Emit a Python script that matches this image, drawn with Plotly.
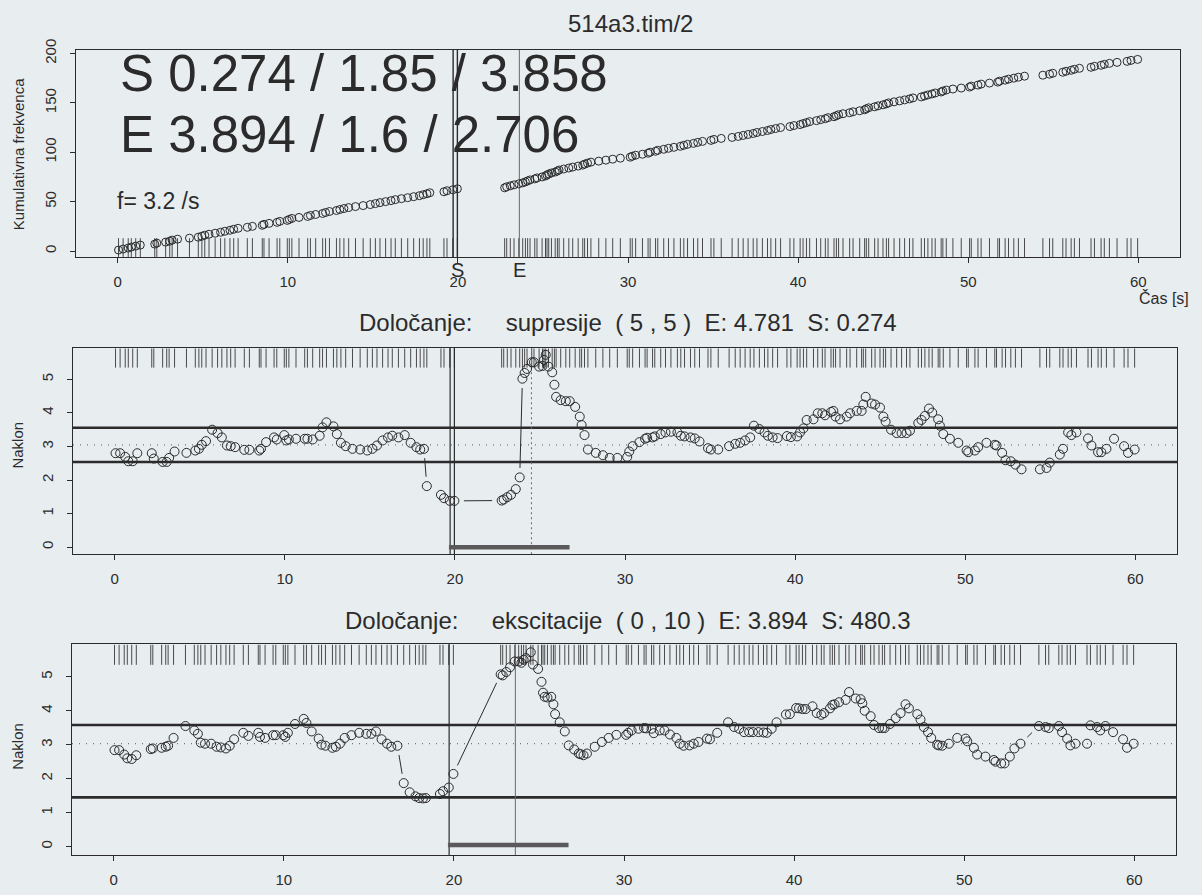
import math
import plotly.graph_objects as go

# Event times [s] of the recorded spikes (same events in all three panels)
event_times = [
    0.05, 0.32, 0.62, 0.80, 1.06, 1.33, 2.18, 2.30, 2.82, 3.06,
    3.20, 3.52, 4.22, 4.74, 4.95, 5.12, 5.37, 5.73, 6.05, 6.30,
    6.60, 6.82, 7.08, 7.62, 7.92, 8.50, 8.60, 8.90, 9.37, 9.53,
    9.97, 10.09, 10.24, 10.66, 11.17, 11.33, 11.64, 12.05, 12.22, 12.45,
    12.86, 13.06, 13.30, 13.58, 13.98, 14.43, 14.85, 15.15, 15.42, 15.75,
    16.07, 16.32, 16.68, 17.05, 17.40, 17.74, 17.96, 18.18, 18.35, 19.18,
    19.36, 19.70, 19.97,
    22.75, 22.87, 23.08, 23.30, 23.58, 23.81, 23.97, 24.10, 24.24, 24.52,
    24.65, 24.95, 25.15, 25.24, 25.34, 25.50, 25.72, 25.85, 25.95, 26.22,
    26.52, 26.75, 27.07, 27.34, 27.45, 27.62, 27.82, 28.28, 28.70, 29.10,
    29.55, 30.13, 30.25, 30.45, 30.85, 31.18, 31.30, 31.62, 31.75, 32.10,
    32.38, 32.70, 33.08, 33.28, 33.50, 33.85, 34.10, 34.38, 34.88, 35.05,
    35.48, 36.12, 36.48, 36.77, 37.06, 37.36, 37.58, 37.90, 38.20, 38.40,
    38.68, 38.97, 39.52, 39.75, 40.12,
    40.29, 40.49, 40.68, 41.08, 41.33, 41.60, 41.76, 42.11, 42.25, 42.38,
    42.64, 43.03, 43.23, 43.62, 43.91, 44.01, 44.15, 44.50, 44.70, 44.99,
    45.19, 45.32, 45.64, 45.97, 46.26, 46.55, 46.75, 47.24, 47.43, 47.63,
    47.87, 48.06, 48.41, 48.51, 48.71, 49.10, 49.59, 50.08, 50.18, 50.57,
    50.76, 51.25, 51.74, 51.84, 52.17, 52.37, 52.68, 52.95, 53.31, 54.39,
    54.78, 54.97, 55.56, 55.75, 56.05, 56.24, 56.54, 57.22, 57.42, 57.81,
    58.00, 58.30, 58.75, 59.34, 59.57, 59.96,
]

# Slope estimate, window (5, 5) - "supresije"
naklon_supresija = [
    2.80, 2.80, 2.69, 2.56, 2.56, 2.80, 2.80, 2.64, 2.54, 2.54,
    2.66, 2.85, 2.81, 2.88, 2.93, 3.05, 3.16, 3.50, 3.40, 3.27,
    3.03, 3.01, 2.98, 2.90, 2.90, 2.88, 2.93, 3.13, 3.27, 3.21,
    3.34, 3.18, 3.21, 3.23, 3.23, 3.23, 3.21, 3.32, 3.57, 3.72,
    3.60, 3.37, 3.11, 3.01, 2.93, 2.91, 2.88, 2.93, 3.03, 3.18,
    3.27, 3.32, 3.27, 3.34, 3.11, 2.98, 2.91, 2.93, 1.82, 1.56,
    1.46, 1.38, 1.38,
    1.39, 1.42, 1.49, 1.56, 1.73, 2.08, 5.02, 5.19, 5.31, 5.51,
    5.51, 5.38, 5.40, 5.58, 5.73, 5.38, 5.21, 4.84, 4.48, 4.38,
    4.35, 4.35, 4.18, 3.89, 3.64, 3.34, 2.91, 2.81, 2.74, 2.66,
    2.66, 2.69, 2.85, 3.01, 3.13, 3.23, 3.26, 3.27, 3.30, 3.37,
    3.42, 3.44, 3.42, 3.32, 3.30, 3.27, 3.24, 3.15, 2.95, 2.91,
    2.91, 3.01, 3.08, 3.11, 3.18, 3.27, 3.62, 3.52, 3.42, 3.32,
    3.27, 3.25, 3.31, 3.28, 3.30,
    3.42, 3.54, 3.79, 3.81, 3.99, 3.99, 3.93, 4.03, 4.06, 3.89,
    3.81, 3.89, 3.99, 4.06, 4.06, 4.25, 4.48, 4.28, 4.25, 4.16,
    3.89, 3.74, 3.50, 3.40, 3.40, 3.40, 3.47, 3.70, 3.79, 3.91,
    4.13, 4.01, 3.81, 3.62, 3.37, 3.23, 3.11, 2.88, 2.83, 2.88,
    2.98, 3.11, 3.05, 3.03, 2.81, 2.59, 2.56, 2.46, 2.32, 2.32,
    2.36, 2.52, 2.76, 2.93, 3.42, 3.34, 3.42, 3.24, 3.03, 2.83,
    2.83, 2.93, 3.23, 3.01, 2.81, 2.91,
]

# Slope estimate, window (0, 10) - "ekscitacije"
naklon_ekscitacija = [
    2.84, 2.84, 2.71, 2.60, 2.58, 2.69, 2.87, 2.89, 2.91, 2.94,
    2.97, 3.20, 3.55, 3.42, 3.32, 3.06, 3.03, 3.03, 2.94, 2.92,
    2.89, 2.97, 3.16, 3.35, 3.26, 3.35, 3.23, 3.20, 3.28, 3.28,
    3.28, 3.23, 3.35, 3.61, 3.76, 3.64, 3.39, 3.18, 3.00, 2.97,
    2.91, 2.94, 3.03, 3.20, 3.28, 3.35, 3.32, 3.32, 3.39, 3.16,
    3.03, 2.94, 2.97, 1.87, 1.60, 1.48, 1.43, 1.42, 1.43, 1.55,
    1.63, 1.74, 2.14,
    5.07, 5.04, 5.14, 5.28, 5.45, 5.45, 5.41, 5.50, 5.55, 5.72,
    5.36, 5.23, 4.85, 4.53, 4.41, 4.39, 4.41, 4.19, 3.90, 3.66,
    3.39, 2.98, 2.86, 2.74, 2.72, 2.69, 2.74, 2.94, 3.08, 3.20,
    3.29, 3.29, 3.35, 3.42, 3.47, 3.49, 3.48, 3.47, 3.34, 3.42,
    3.42, 3.30, 3.20, 3.03, 2.97, 2.98, 3.03, 3.08, 3.18, 3.16,
    3.35, 3.66, 3.52, 3.47, 3.37, 3.37, 3.37, 3.37, 3.36, 3.35,
    3.47, 3.66, 3.89, 3.90, 4.08,
    4.07, 4.05, 4.05, 4.13, 3.93, 3.88, 3.93, 4.07, 4.17, 4.19,
    4.25, 4.32, 4.55, 4.36, 4.34, 4.22, 4.00, 3.84, 3.58, 3.49,
    3.49, 3.49, 3.61, 3.78, 3.93, 4.19, 4.07, 3.90, 3.74, 3.52,
    3.37, 3.20, 3.00, 2.98, 2.97, 3.03, 3.20, 3.18, 3.10, 2.91,
    2.71, 2.65, 2.55, 2.50, 2.45, 2.45, 2.65, 2.89, 3.03, 3.55,
    3.52, 3.49, 3.55, 3.37, 3.18, 2.98, 3.03, 3.03, 3.57, 3.52,
    3.42, 3.55, 3.37, 3.16, 2.91, 3.03,
]

# Reference levels (upper / mean / lower) and markers
supresija_levels = {"upper": 3.56, "mean": 3.05, "lower": 2.54}
ekscitacija_levels = {"upper": 3.58, "mean": 3.03, "lower": 1.45}
t_start = 19.72                 # S
t_last_before = 19.97           # last spike before the pause
e_ekscitacija = 3.894           # E (top / bottom panel)
e_supresija = 4.781             # E (middle panel)
interval_bar = [19.65, 26.74]   # thick bar along the baseline

x_tick_vals = [0, 10, 20, 30, 40, 50, 60]
cum_tick_vals = [0, 50, 100, 150, 200]
slope_tick_vals = [0, 1, 2, 3, 4, 5]

title_top = "514a3.tim/2"
title_mid = "Določanje:     supresije  ( 5 , 5 )  E: 4.781  S: 0.274"
title_bot = "Določanje:     ekscitacije  ( 0 , 10 )  E: 3.894  S: 480.3"
text_s = "S 0.274 / 1.85 / 3.858"
text_e = "E 3.894 / 1.6 / 2.706"
text_f = "f= 3.2 /s"

W, H = 1202, 895
BG = "#e8edf0"
INK = "#2b2b2b"
GREY = "#6a6a6a"
FONT = "Liberation Sans, Arial, Helvetica, sans-serif"
X_RANGE = [-2.45, 62.45]

panels = {
    "top": dict(x="x", y="y", xdom=[76 / W, 1180 / W], ydom=[1 - 249 / H, 1 - 39 / H], yr=[-6, 204]),
    "mid": dict(x="x2", y="y2", xdom=[73 / W, 1177 / W], ydom=[1 - 550 / H, 1 - 341 / H], yr=[-0.21, 5.94]),
    "bot": dict(x="x3", y="y3", xdom=[72 / W, 1176 / W], ydom=[1 - 855 / H, 1 - 641 / H], yr=[-0.26, 5.96]),
}


def gapped_path(xs, ys, p, gap=9.5):
    """Connecting segments like R type='b': each segment stops short of the points."""
    sx = (p["xdom"][1] - p["xdom"][0]) * W / (X_RANGE[1] - X_RANGE[0])
    sy = (p["ydom"][1] - p["ydom"][0]) * H / (p["yr"][1] - p["yr"][0])
    lx, ly = [], []
    for i in range(len(xs) - 1):
        x1, y1, x2, y2 = xs[i], ys[i], xs[i + 1], ys[i + 1]
        d = math.hypot((x2 - x1) * sx, (y2 - y1) * sy)
        if d > 2 * gap:
            f = gap / d
            lx += [x1 + (x2 - x1) * f, x2 - (x2 - x1) * f, None]
            ly += [y1 + (y2 - y1) * f, y2 - (y2 - y1) * f, None]
    return lx, ly


def rug(times, y0, y1):
    xs, ys = [], []
    for t in times:
        xs += [t, t, None]
        ys += [y0, y1, None]
    return xs, ys


def vline(t, p):
    return [t, t], [p["yr"][0], p["yr"][1]]


fig = go.Figure()

# ---------- top: cumulative frequency ----------
pt = panels["top"]
cumulative = list(range(1, len(event_times) + 1))
rx, ry = rug(event_times, -6, 13)
fig.add_trace(go.Scatter(x=rx, y=ry, mode="lines", line=dict(color="#4a4a4a", width=1),
                         xaxis=pt["x"], yaxis=pt["y"], hoverinfo="skip"))
for t, w, c in [(t_start, 1.4, INK), (t_last_before, 1.4, INK), (t_start + e_ekscitacija, 1, GREY)]:
    vx, vy = vline(t, pt)
    fig.add_trace(go.Scatter(x=vx, y=vy, mode="lines", line=dict(color=c, width=w),
                             xaxis=pt["x"], yaxis=pt["y"], hoverinfo="skip"))
fig.add_trace(go.Scatter(x=event_times, y=cumulative, mode="markers",
                         marker=dict(symbol="circle-open", size=8, color=INK, line=dict(width=1)),
                         xaxis=pt["x"], yaxis=pt["y"]))


def slope_panel(p, values, levels, vlines, bar_y):
    rx, ry = rug(event_times, 5.35, p["yr"][1] - 0.02)
    fig.add_trace(go.Scatter(x=rx, y=ry, mode="lines", line=dict(color="#4a4a4a", width=1),
                             xaxis=p["x"], yaxis=p["y"], hoverinfo="skip"))
    for key in ("upper", "lower"):
        fig.add_trace(go.Scatter(x=X_RANGE, y=[levels[key]] * 2, mode="lines",
                                 line=dict(color=INK, width=2.6),
                                 xaxis=p["x"], yaxis=p["y"], hoverinfo="skip"))
    fig.add_trace(go.Scatter(x=X_RANGE, y=[levels["mean"]] * 2, mode="lines",
                             line=dict(color="#777777", width=1.2, dash="1px,6px"),
                             xaxis=p["x"], yaxis=p["y"], hoverinfo="skip"))
    for t, w, c, dash in vlines:
        vx, vy = vline(t, p)
        fig.add_trace(go.Scatter(x=vx, y=vy, mode="lines", line=dict(color=c, width=w, dash=dash),
                                 xaxis=p["x"], yaxis=p["y"], hoverinfo="skip"))
    fig.add_trace(go.Scatter(x=interval_bar, y=[bar_y, bar_y], mode="lines",
                             line=dict(color="#5a5a5a", width=4.5),
                             xaxis=p["x"], yaxis=p["y"], hoverinfo="skip"))
    lx, ly = gapped_path(event_times, values, p)
    fig.add_trace(go.Scatter(x=lx, y=ly, mode="lines", line=dict(color=INK, width=1),
                             xaxis=p["x"], yaxis=p["y"], hoverinfo="skip"))
    fig.add_trace(go.Scatter(x=event_times, y=values, mode="markers",
                             marker=dict(symbol="circle-open", size=9, color=INK, line=dict(width=1)),
                             xaxis=p["x"], yaxis=p["y"]))


slope_panel(panels["mid"], naklon_supresija, supresija_levels,
            [(t_start, 1.2, INK, "solid"), (t_last_before, 1.2, INK, "solid"),
             (t_start + e_supresija, 1, GREY, "2px,3px")], 0.0)
slope_panel(panels["bot"], naklon_ekscitacija, ekscitacija_levels,
            [(t_start, 1.2, INK, "solid"), (t_start + e_ekscitacija, 1, GREY, "solid")], 0.05)

# ---------- axes ----------
axis_common = dict(showgrid=False, zeroline=False, showline=True, mirror=True,
                   linecolor=INK, linewidth=1, ticks="outside", ticklen=5,
                   tickcolor=INK, tickfont=dict(family=FONT, size=15, color=INK))
layout_axes = {}
for i, key in enumerate(["top", "mid", "bot"]):
    p = panels[key]
    sfx = "" if i == 0 else str(i + 1)
    layout_axes["xaxis" + sfx] = dict(axis_common, domain=p["xdom"], range=X_RANGE,
                                      tickvals=x_tick_vals, anchor="y" + sfx,
                                      ticklabelstandoff=6)
    layout_axes["yaxis" + sfx] = dict(axis_common, domain=p["ydom"], range=p["yr"],
                                      tickvals=cum_tick_vals if key == "top" else slope_tick_vals,
                                      anchor="x" + sfx, tickangle=-90, ticklabelstandoff=8)

ann_font = lambda s: dict(family=FONT, size=s, color=INK)
annotations = [
    dict(text=title_top, x=630 / W, y=1 - 13 / H, font=ann_font(24)),
    dict(text=title_mid, x=628 / W, y=1 - 315 / H, font=ann_font(24)),
    dict(text=title_bot, x=628 / W, y=1 - 617 / H, font=ann_font(24)),
    dict(text=text_s, x=118 / W, y=1 - 63 / H, xanchor="left", font=ann_font(51)),
    dict(text=text_e, x=118 / W, y=1 - 125 / H, xanchor="left", font=ann_font(51)),
    dict(text=text_f, x=115 / W, y=1 - 192 / H, xanchor="left", font=ann_font(23)),
    dict(text="Čas [s]", x=1191 / W, y=1 - 291 / H, xanchor="right", font=ann_font(16)),
    dict(text="Kumulativna frekvenca", x=18 / W, y=1 - 145 / H, textangle=-90, font=ann_font(15)),
    dict(text="Naklon", x=18 / W, y=1 - 440 / H, textangle=-90, font=ann_font(15)),
    dict(text="Naklon", x=18 / W, y=1 - 745 / H, textangle=-90, font=ann_font(15)),
]
for a in annotations:
    a.update(xref="paper", yref="paper", showarrow=False)
    a.setdefault("xanchor", "center")
    a.setdefault("yanchor", "middle")
# S / E markers under the time axis of the top panel
for label, t in [("S", 20.0), ("E", t_start + e_ekscitacija)]:
    annotations.append(dict(text=label, x=t, xref="x", y=1 - 262 / H, yref="paper",
                            showarrow=False, xanchor="center", yanchor="middle",
                            font=ann_font(20)))

fig.update_layout(
    width=W, height=H, margin=dict(l=0, r=0, t=0, b=0),
    paper_bgcolor=BG, plot_bgcolor=BG, showlegend=False,
    font=dict(family=FONT, color=INK),
    annotations=annotations, **layout_axes,
)

fig.write_html("out.html")
